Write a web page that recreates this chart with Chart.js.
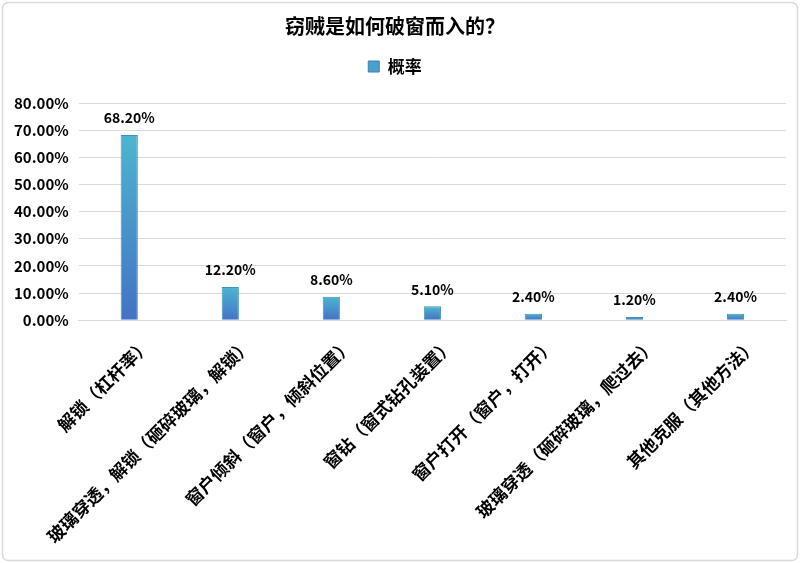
<!DOCTYPE html>
<html>
<head>
<meta charset="utf-8">
<script src="https://cdn.jsdelivr.net/npm/chart.js@4/dist/chart.umd.min.js"></script>
<style>
html,body{margin:0;padding:0;background:#fff;}
#wrap{width:800px;height:563px;position:relative;}
</style>
</head>
<body>
<div id="wrap"><canvas id="c" width="800" height="563"></canvas></div>
<script>
const categories = ["解锁（杠杆率）","玻璃穿透，解锁（砸碎玻璃，解锁）","窗户倾斜（窗户，倾斜位置）","窗钻（窗式钻孔装置）","窗户打开（窗户，打开）","玻璃穿透（砸碎玻璃，爬过去）","其他克服（其他方法）"];
const seriesName = "概率";
const values = [68.2, 12.2, 8.6, 5.1, 2.4, 1.2, 2.4];
const yTicks = [0, 10, 20, 30, 40, 50, 60, 70, 80];
const titleText = "窃贼是如何破窗而入的？";

const FONT = "'Noto Sans CJK SC', 'Noto Sans', sans-serif";

const frame = {
  id: 'frame',
  beforeInit(chart) {
    const lg = chart.legend;
    if (lg) {
      const orig = lg.fit;
      lg.fit = function () { orig.call(this); this.height += 18; };
    }
  },
  beforeDraw(chart) {
    const c = chart.ctx;
    c.save();
    c.fillStyle = '#fff';
    c.fillRect(0, 0, chart.width, chart.height);
    c.strokeStyle = '#d9d9d9';
    c.lineWidth = 1.5;
    c.beginPath();
    if (c.roundRect) c.roundRect(2.5, 2.5, chart.width - 5, chart.height - 5, 6);
    else c.rect(2.5, 2.5, chart.width - 5, chart.height - 5);
    c.stroke();
    c.restore();
  }
};

const dataLabels = {
  id: 'dataLabels',
  afterDatasetsDraw(chart) {
    const c = chart.ctx;
    const meta = chart.getDatasetMeta(0);
    c.save();
    c.font = "bold 14px " + FONT;
    c.fillStyle = '#000';
    c.textAlign = 'center';
    c.textBaseline = 'bottom';
    meta.data.forEach((el, i) => {
      c.fillText(values[i].toFixed(2) + '%', el.x, el.y - 10);
    });
    c.restore();
  }
};

function barGradient(ctx) {
  const chart = ctx.chart;
  const y = chart.scales.y;
  if (!y || ctx.dataIndex === undefined) return '#4bacc6';
  const top = y.getPixelForValue(values[ctx.dataIndex]);
  const bot = y.getPixelForValue(0);
  if (!isFinite(top) || !isFinite(bot) || top === bot) return '#4bacc6';
  const g = chart.ctx.createLinearGradient(0, top, 0, bot);
  g.addColorStop(0, '#4db5d0');
  g.addColorStop(1, '#4472c4');
  return g;
}

new Chart(document.getElementById('c'), {
  type: 'bar',
  data: {
    labels: categories,
    datasets: [{
      label: seriesName,
      data: values,
      backgroundColor: barGradient,
      borderColor: '#3f93b5',
      borderWidth: 1,
      categoryPercentage: 1,
      barPercentage: 0.17
    }]
  },
  options: {
    responsive: false,
    animation: false,
    devicePixelRatio: 1,
    layout: { padding: { left: 4, right: 14, top: 2, bottom: 2 } },
    plugins: {
      title: {
        display: true,
        text: titleText,
        color: '#000',
        font: { family: FONT, size: 20, weight: 'bold' },
        padding: { top: 12, bottom: 10 }
      },
      legend: {
        display: true,
        position: 'top',
        labels: {
          color: '#000',
          font: { family: FONT, size: 17, weight: 'bold' },
          boxWidth: 11,
          boxHeight: 11,
          padding: 10,
          generateLabels(chart) {
            return [{
              text: seriesName,
              fillStyle: '#48a0cc',
              strokeStyle: '#3f7fb5',
              lineWidth: 1,
              datasetIndex: 0,
              fontColor: '#000'
            }];
          }
        }
      },
      tooltip: { enabled: false }
    },
    scales: {
      x: {
        grid: { display: false, drawTicks: false },
        border: { display: true, color: '#d9d9d9' },
        ticks: {
          color: '#000',
          font: { family: FONT, size: 17.5, weight: 'bold' },
          maxRotation: 45,
          minRotation: 45,
          autoSkip: false,
          padding: 14,
          labelOffset: 18
        }
      },
      y: {
        min: 0,
        max: 80,
        grid: { color: '#d9d9d9', drawTicks: false },
        border: { display: false },
        afterBuildTicks(axis) { axis.ticks = yTicks.map(v => ({ value: v })); },
        ticks: {
          color: '#000',
          font: { family: FONT, size: 15, weight: 'bold' },
          padding: 10,
          callback: v => Number(v).toFixed(2) + '%'
        }
      }
    }
  },
  plugins: [frame, dataLabels]
});
</script>
</body>
</html>
